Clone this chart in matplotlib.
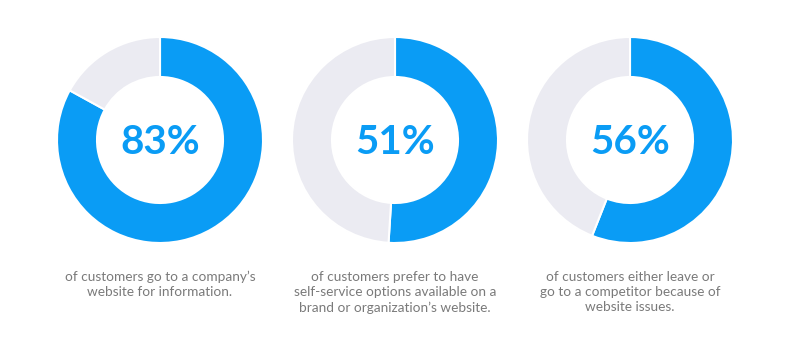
import matplotlib.pyplot as plt

percents = [83, 51, 56]
captions = [
    "of customers go to a company\u2019s\nwebsite for information.",
    "of customers prefer to have\nself-service options available on a\nbrand or organization\u2019s website.",
    "of customers either leave or\ngo to a competitor because of\nwebsite issues.",
]

blue = "#0A9CF5"
grey = "#EBEBF2"
W, H = 809, 360
centers_x = [160, 395, 630]
cy = H - 140

fig = plt.figure(figsize=(W / 100, H / 100), dpi=100)
ax = fig.add_axes([0, 0, 1, 1])
ax.set_xlim(0, W)
ax.set_ylim(0, H)
ax.set_aspect("equal")
ax.axis("off")

for cx, p, cap in zip(centers_x, percents, captions):
    ax.pie([p, 100 - p], colors=[blue, grey], center=(cx, cy), radius=103,
           startangle=90, counterclock=False,
           wedgeprops=dict(width=40, edgecolor="white", linewidth=1.5))
    ax.text(cx, cy - 2, f"{p}%", ha="center", va="center", color=blue,
            fontsize=29, family="Lato", fontweight="bold")
    ax.text(cx, H - 271, cap, ha="center", va="top", color="#7a7a7a",
            fontsize=9.8, family="Lato", linespacing=1.3)

ax.set_xlim(0, W)
ax.set_ylim(0, H)
fig.savefig("out.png", dpi=100)
